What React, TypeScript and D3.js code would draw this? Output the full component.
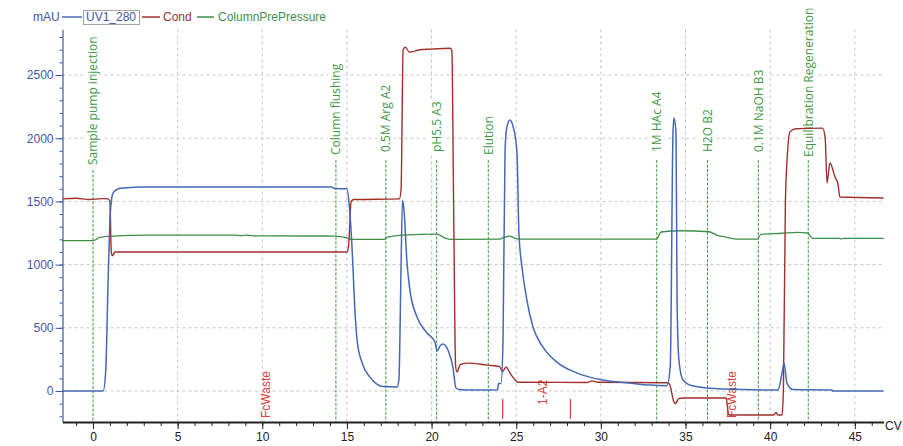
import React, { useEffect, useRef } from "react";
import * as d3 from "d3";

const W = 903;
const H = 446;

// UV1_280 (mAU)
const uvCV = [-1.8, 0.6, 0.75, 0.9, 1.0, 1.1, 1.2, 1.5, 2.0, 2.8, 14.1, 14.25, 15.0, 15.15, 15.3, 15.48, 15.6, 15.9, 16.36, 16.77, 17.13, 17.96, 18.07, 18.2, 18.28, 18.36, 18.55, 18.72, 19.14, 19.73, 20.2, 20.32, 20.5, 20.67, 20.97, 21.26, 21.44, 21.7, 22.86, 23.9, 23.95, 24.1, 24.22, 24.34, 24.45, 24.63, 24.8, 25.04, 25.16, 25.34, 25.63, 25.99, 26.58, 27.4, 28.6, 30.1, 31.7, 32.9, 33.9, 34.1, 34.26, 34.32, 34.44, 34.5, 34.61, 34.85, 35.44, 37.2, 40.46, 40.7, 40.82, 40.99, 41.35, 43.65, 43.7, 46.7];
const uvVal = [0, 0, 150, 900, 1350, 1520, 1570, 1600, 1608, 1615, 1615, 1602, 1600, 1450, 1140, 617, 403, 221, 110, 55, 35, 32, 90, 1000, 1510, 1450, 1013, 800, 585, 459, 388, 316, 356, 372, 324, 190, 24, 10, 8, 10, 60, 60, 400, 1906, 2089, 2144, 2100, 1900, 1250, 981, 720, 506, 348, 229, 142, 87, 63, 47, 42, 200, 2041, 2160, 2040, 720, 245, 87, 40, 16, 8, 142, 221, 63, 12, 8, 0, 0];

// Cond (scaled to mAU axis)
const condCV = [-1.8, -1.0, -0.2, 0.5, 0.9, 1.0, 1.08, 1.14, 1.3, 15.0, 15.1, 15.25, 15.4, 18.1, 18.2, 18.32, 18.45, 18.7, 19.3, 20.0, 21.1, 21.2, 21.3, 21.42, 21.5, 21.7, 22.2, 23.3, 24.0, 24.2, 24.4, 24.6, 24.8, 25.1, 29.2, 29.5, 29.8, 33.9, 34.05, 34.3, 34.4, 34.6, 34.85, 37.4, 37.55, 40.2, 40.35, 40.45, 40.7, 40.78, 40.9, 41.0, 41.17, 41.5, 43.1, 43.25, 43.36, 43.53, 43.83, 44.0, 44.12, 46.7];
const condVal = [1520, 1525, 1515, 1522, 1520, 1500, 1100, 1070, 1100, 1100, 1150, 1500, 1515, 1520, 1600, 2700, 2720, 2680, 2700, 2705, 2712, 2690, 1500, 200, 150, 210, 221, 205, 195, 155, 190, 150, 110, 70, 68, 80, 70, 65, 55, -80, -100, -60, -55, -55, -190, -190, -170, -190, -190, 0, 1500, 1830, 2050, 2075, 2080, 2000, 1645, 1804, 1693, 1640, 1535, 1527];

// ColumnPrePressure (scaled to mAU axis)
const presCV = [-1.8, 0.0, 0.2, 0.4, 1.1, 3.2, 8.5, 8.7, 9.0, 9.5, 14.3, 15.0, 15.2, 17.2, 17.4, 17.6, 18.3, 20.3, 20.8, 21.2, 24.0, 24.3, 24.6, 24.9, 25.2, 33.3, 33.55, 34.7, 36.4, 36.8, 37.3, 38.0, 39.25, 39.45, 40.7, 41.6, 42.2, 42.5, 44.1, 44.2, 44.3, 46.7];
const presVal = [1190, 1190, 1200, 1215, 1226, 1234, 1234, 1228, 1234, 1228, 1226, 1212, 1200, 1200, 1218, 1222, 1234, 1242, 1210, 1200, 1202, 1215, 1226, 1210, 1202, 1202, 1258, 1268, 1260, 1236, 1220, 1202, 1202, 1240, 1248, 1255, 1250, 1208, 1208, 1202, 1208, 1208];

// Run log events
const eventCV = [0, 14.35, 17.3, 20.3, 23.35, 33.3, 36.3, 39.3, 42.25];
const eventLabels = ["Sample pump injection", "Column flushing", "0.5M Arg A2", "pH5.5 A3", "Elution", "1M HAc A4", "H2O B2", "0.1M NaOH B3", "Equilibration Regeneration"];

// Fractions
const fracTickCV = [24.2, 28.2];
const fracLabelCV = [10.2, 26.58, 37.75];
const fracLabels = ["FcWaste", "1-A2", "FcWaste"];

// Axis ticks
const yMajor = [0, 500, 1000, 1500, 2000, 2500];
const xMajor = [0, 5, 10, 15, 20, 25, 30, 35, 40, 45];

const BLUE = "#4468b8";
const RED = "#a0302a";
const GREEN = "#3f8f4a";
const GREEN_TXT = "#3f9a3f";
const AXIS_BLUE = "#3f55a8";
const SANS = "'Liberation Sans', Arial, sans-serif";
const LABEL_FONT = "'Open Sans', 'Noto Sans', sans-serif";

export default function App() {
  const ref = useRef<SVGSVGElement>(null);

  useEffect(() => {
    const svg = d3.select(ref.current);
    svg.selectAll("*").remove();

    const x = d3.scaleLinear().domain([-1.8, 46.7]).range([62.5, 883.6]);
    const y = d3.scaleLinear().domain([-245, 2860]).range([422, 29.5]);
    const top = y(2860);
    const bottom = y(-245);
    const left = x(-1.8);
    const right = x(46.7);

    // gridlines
    const grid = svg.append("g");
    xMajor.filter((v) => v > 0).forEach((v) => {
      grid.append("line").attr("x1", x(v)).attr("x2", x(v)).attr("y1", top).attr("y2", bottom)
        .attr("stroke", "#c6c6c6").attr("stroke-dasharray", "3,3");
    });
    yMajor.forEach((v) => {
      grid.append("line").attr("x1", left).attr("x2", right).attr("y1", y(v)).attr("y2", y(v))
        .attr("stroke", "#c6c6c6").attr("stroke-dasharray", "3,3");
    });

    // event markers
    const ev = svg.append("g");
    eventCV.forEach((cv, i) => {
      const special = i === 0 ? 13 : (i === 1 || i === 4 ? 3 : i === 8 ? 5 : 0);
      const textBottom = 152 + special;
      const lineTop = i === 0 ? 170 : 160;
      const gx = x(cv);
      const lg = ev.append("g").attr("transform", `translate(${gx},${textBottom}) rotate(-90)`);
      const bg = lg.append("rect").attr("fill", "#fff");
      const t = lg.append("text").text(eventLabels[i]).attr("x", 0).attr("y", 0).attr("dy", "0.36em")
        .attr("font-family", LABEL_FONT).attr("font-size", 12).attr("fill", GREEN_TXT);
      const node = t.node() as SVGTextElement;
      const len = node.getComputedTextLength();
      bg.attr("x", -2).attr("y", -8).attr("width", len + 4).attr("height", 16);
      ev.append("line").attr("x1", gx).attr("x2", gx).attr("y1", lineTop).attr("y2", bottom)
        .attr("stroke", "#3f9a3f").attr("stroke-width", 1).attr("stroke-dasharray", "3,1.5");
    });

    // fractions
    const fr = svg.append("g");
    fracTickCV.forEach((cv) => {
      fr.append("line").attr("x1", x(cv)).attr("x2", x(cv)).attr("y1", bottom - 23).attr("y2", bottom - 3)
        .attr("stroke", "#e0403a").attr("stroke-width", 1.2);
    });
    fracLabelCV.forEach((cv, i) => {
      const b = fracLabels[i] === "FcWaste" ? bottom - 4 : bottom - 17;
      fr.append("text").text(fracLabels[i])
        .attr("transform", `translate(${x(cv)},${b}) rotate(-90)`)
        .attr("dy", "0.36em").attr("font-family", SANS).attr("font-size", 12).attr("fill", "#e0403a");
    });

    // curves
    const line = (cvs: number[], vals: number[]) =>
      d3.line<number>().x((d) => x(cvs[d])).y((d) => y(vals[d])).curve(d3.curveMonotoneX)(d3.range(cvs.length));

    svg.append("path").attr("d", line(presCV, presVal) as string).attr("fill", "none").attr("stroke", GREEN).attr("stroke-width", 1.3);
    svg.append("path").attr("d", line(condCV, condVal) as string).attr("fill", "none").attr("stroke", RED).attr("stroke-width", 1.4);
    svg.append("path").attr("d", line(uvCV, uvVal) as string).attr("fill", "none").attr("stroke", BLUE).attr("stroke-width", 1.5);

    // y axis
    const yMinor = svg.append("g").attr("transform", `translate(${left},0)`)
      .call(d3.axisLeft(y).tickValues(d3.range(-200, 2900, 100)).tickSize(3).tickSizeOuter(0).tickFormat(() => ""));
    yMinor.select(".domain").remove();
    yMinor.selectAll("line").attr("stroke", AXIS_BLUE);
    const yAx = svg.append("g").attr("transform", `translate(${left},0)`)
      .call(d3.axisLeft(y).tickValues(yMajor).tickSize(7).tickPadding(2).tickSizeOuter(0).tickFormat(d3.format("d")));
    yAx.select(".domain").attr("stroke", AXIS_BLUE).attr("stroke-width", 1.2);
    yAx.selectAll("line").attr("stroke", AXIS_BLUE);
    yAx.selectAll("text").attr("fill", AXIS_BLUE).attr("font-family", SANS).attr("font-size", 12);

    // x axis
    const xMinor = svg.append("g").attr("transform", `translate(0,${bottom})`)
      .call(d3.axisBottom(x).tickValues(d3.range(-1, 47, 1)).tickSize(4).tickSizeOuter(0).tickFormat(() => ""));
    xMinor.select(".domain").remove();
    xMinor.selectAll("line").attr("stroke", "#222");
    const xAx = svg.append("g").attr("transform", `translate(0,${bottom})`)
      .call(d3.axisBottom(x).tickValues(xMajor).tickSize(7).tickPadding(3).tickSizeOuter(0).tickFormat(d3.format("d")));
    xAx.select(".domain").attr("stroke", "#222").attr("stroke-width", 2);
    xAx.selectAll("line").attr("stroke", "#222");
    xAx.selectAll("text").attr("fill", "#222").attr("font-family", SANS).attr("font-size", 12);

    svg.append("text").text("CV").attr("x", 885).attr("y", 430)
      .attr("font-family", SANS).attr("font-size", 12).attr("fill", "#222");

    // legend
    const lg = svg.append("g").attr("font-family", SANS).attr("font-size", 12);
    lg.append("text").text("mAU").attr("x", 33).attr("y", 21).attr("fill", AXIS_BLUE);
    lg.append("line").attr("x1", 62).attr("x2", 82).attr("y1", 17).attr("y2", 17).attr("stroke", BLUE).attr("stroke-width", 1.5);
    lg.append("rect").attr("x", 83.5).attr("y", 10.5).attr("width", 56).attr("height", 14)
      .attr("fill", "none").attr("stroke", "#444").attr("stroke-dasharray", "1,1");
    lg.append("text").text("UV1_280").attr("x", 86).attr("y", 21).attr("fill", AXIS_BLUE);
    lg.append("line").attr("x1", 142).attr("x2", 160).attr("y1", 17).attr("y2", 17).attr("stroke", RED).attr("stroke-width", 1.5);
    lg.append("text").text("Cond").attr("x", 163).attr("y", 21).attr("fill", RED);
    lg.append("line").attr("x1", 197).attr("x2", 214).attr("y1", 17).attr("y2", 17).attr("stroke", GREEN).attr("stroke-width", 1.5);
    lg.append("text").text("ColumnPrePressure").attr("x", 218).attr("y", 21).attr("fill", GREEN);
  }, []);

  return (
    <svg
      ref={ref}
      width={W}
      height={H}
      style={{ position: "absolute", left: 0, top: 0, display: "block", background: "#fff" }}
    />
  );
}
